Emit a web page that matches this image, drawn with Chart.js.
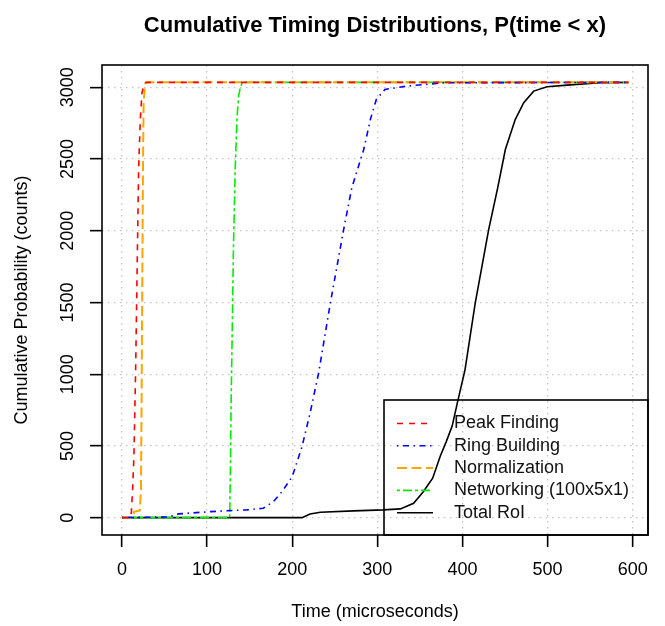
<!DOCTYPE html>
<html>
<head>
<meta charset="utf-8">
<script src="https://cdn.jsdelivr.net/npm/chart.js@4.4.1/dist/chart.umd.min.js"></script>
<style>
  html, body { margin: 0; padding: 0; background: #fff; }
  #wrap { width: 665px; height: 626px; }
</style>
</head>
<body>
<div id="wrap"><canvas id="cdfChart" width="665" height="626"></canvas></div>
<script>
// ── Values ───────────────────────────────────────────────────────────────
const xTicks = [0, 100, 200, 300, 400, 500, 600];
const yTicks = [0, 500, 1000, 1500, 2000, 2500, 3000];

const peakTimes  = [0, 10, 11, 12.5, 14, 16, 18, 19.5, 21.5, 23.5, 26, 28, 595];
const peakCounts = [0, 0, 40, 200, 430, 1020, 1820, 2426, 2775, 2962, 3020, 3034, 3034];

const ringTimes  = [0, 55, 66.5, 104, 127, 147, 166, 178, 188, 200, 211.5, 221, 231, 244.8, 260.4, 270, 284, 291.8, 298.8, 309, 335, 378, 595];
const ringCounts = [0, 5, 26, 42, 49, 54, 66, 112, 181, 286, 495, 729, 1008, 1496, 2008, 2299, 2566, 2775, 2915, 2985, 3008, 3031, 3034];

const normTimes  = [0, 13, 14, 21, 22.3, 23, 23.8, 24.6, 25.4, 27.4, 30, 595];
const normCounts = [0, 0, 40, 50, 200, 800, 1600, 2400, 2900, 3026, 3034, 3034];

const netTimes   = [0, 126.5, 127.3, 128.2, 129.5, 131, 133, 135, 137, 139, 141.5, 595];
const netCounts  = [0, 0, 300, 800, 1300, 1900, 2426, 2775, 2938, 3000, 3034, 3034];

const totalTimes  = [0, 211.5, 221, 233, 272, 307, 327, 342.6, 354, 365, 374, 381, 388, 394, 403, 415, 430.8, 441.4, 450.4, 462, 472, 483.7, 499.4, 523, 562, 595];
const totalCounts = [0, 0, 26, 38, 47, 54, 61, 100, 181, 275, 430, 530, 640, 800, 1030, 1496, 2008, 2299, 2566, 2775, 2892, 2973, 3003, 3015, 3031, 3034];

const FONT = "'Liberation Sans', Arial, Helvetica, sans-serif";

// line styles follow R's lty codes (dashed, dotdash, longdash, twodash, solid)
const series = [
  { label: "Peak Finding",         color: "#ff0000", dash: [6, 6],         width: 1.6, t: peakTimes,  c: peakCounts },
  { label: "Ring Building",        color: "#0000ff", dash: [1.5, 4.5, 6, 4.5], width: 1.6, t: ringTimes,  c: ringCounts },
  { label: "Normalization",        color: "#ffa500", dash: [10, 4.5],      width: 2,   t: normTimes,  c: normCounts },
  { label: "Networking (100x5x1)", color: "#00ee00", dash: [3, 3, 9, 3],   width: 1.6, t: netTimes,   c: netCounts },
  { label: "Total RoI",            color: "#000000", dash: [],             width: 1.6, t: totalTimes, c: totalCounts },
];

const datasets = series.map((s) => ({
  label: s.label,
  data: s.t.map((x, i) => ({ x, y: s.c[i] })),
  borderColor: s.color,
  borderDash: s.dash,
  borderWidth: s.width,
  pointRadius: 0,
  tension: 0,
  fill: false,
}));

// ── R-style frame, title, rotated y labels and boxed legend ─────────────────
const rFrame = {
  id: "rFrame",
  afterDraw(chart) {
    const { ctx, chartArea: a, scales } = chart;
    ctx.save();

    ctx.strokeStyle = "#000";
    ctx.lineWidth = 1.6;
    ctx.setLineDash([]);
    ctx.strokeRect(a.left, a.top, a.right - a.left, a.bottom - a.top);

    ctx.fillStyle = "#000";
    ctx.font = `bold 22px ${FONT}`;
    ctx.textAlign = "center";
    ctx.textBaseline = "alphabetic";
    ctx.fillText("Cumulative Timing Distributions, P(time < x)", (a.left + a.right) / 2, 32);

    ctx.font = `18px ${FONT}`;
    ctx.textBaseline = "middle";
    yTicks.forEach((v) => {
      const py = scales.y.getPixelForValue(v);
      ctx.save();
      ctx.translate(68, py);
      ctx.rotate(-Math.PI / 2);
      ctx.fillText(String(v), 0, 0);
      ctx.restore();
    });

    // legend, bottom right, no fill
    const lw = 264, lh = 135;
    const lx = a.right - lw, ly = a.bottom - lh;
    ctx.lineWidth = 1.6;
    ctx.strokeRect(lx, ly, lw, lh);
    ctx.textAlign = "left";
    series.forEach((s, i) => {
      const y = ly + 23.5 + i * 22.3;
      ctx.strokeStyle = s.color;
      ctx.lineWidth = s.width;
      ctx.setLineDash(s.dash);
      ctx.beginPath();
      ctx.moveTo(lx + 13, y);
      ctx.lineTo(lx + 49, y);
      ctx.stroke();
      ctx.setLineDash([]);
      ctx.fillStyle = "#111";
      ctx.fillText(s.label, lx + 70, y);
    });

    ctx.restore();
  },
};

const gridColor = "#c4c4c4";

new Chart(document.getElementById("cdfChart"), {
  type: "line",
  data: { datasets },
  plugins: [rFrame],
  options: {
    responsive: false,
    animation: false,
    layout: { padding: { left: 0, right: 17, top: 65, bottom: 0 } },
    plugins: {
      legend: { display: false },
      tooltip: { enabled: false },
      title: { display: false },
    },
    scales: {
      x: {
        type: "linear",
        min: -23.5,
        max: 618,
        afterBuildTicks: (axis) => { axis.ticks = xTicks.map((v) => ({ value: v })); },
        afterFit: (axis) => { axis.height = 91; },
        grid: {
          color: gridColor,
          lineWidth: 1.3,
          drawTicks: true,
          tickLength: 12,
          tickColor: "#000",
          tickWidth: 1.6,
          tickBorderDash: [],
        },
        border: { display: false, dash: [1.5, 4.5] },
        ticks: {
          color: "#000",
          padding: 12,
          maxRotation: 0,
          font: { family: FONT, size: 18 },
        },
        title: {
          display: true,
          text: "Time (microseconds)",
          color: "#000",
          font: { family: FONT, size: 18 },
          padding: { top: 0, bottom: 3 },
        },
      },
      y: {
        type: "linear",
        min: -121,
        max: 3155,
        afterBuildTicks: (axis) => { axis.ticks = yTicks.map((v) => ({ value: v })); },
        afterFit: (axis) => { axis.width = 102; },
        grid: {
          color: gridColor,
          lineWidth: 1.3,
          drawTicks: true,
          tickLength: 12,
          tickColor: "#000",
          tickWidth: 1.6,
          tickBorderDash: [],
        },
        border: { display: false, dash: [1.5, 4.5] },
        ticks: { display: false },
        title: {
          display: true,
          text: "Cumulative Probability (counts)",
          color: "#000",
          font: { family: FONT, size: 18 },
          padding: { top: 11, bottom: 0 },
        },
      },
    },
  },
});
</script>
</body>
</html>
